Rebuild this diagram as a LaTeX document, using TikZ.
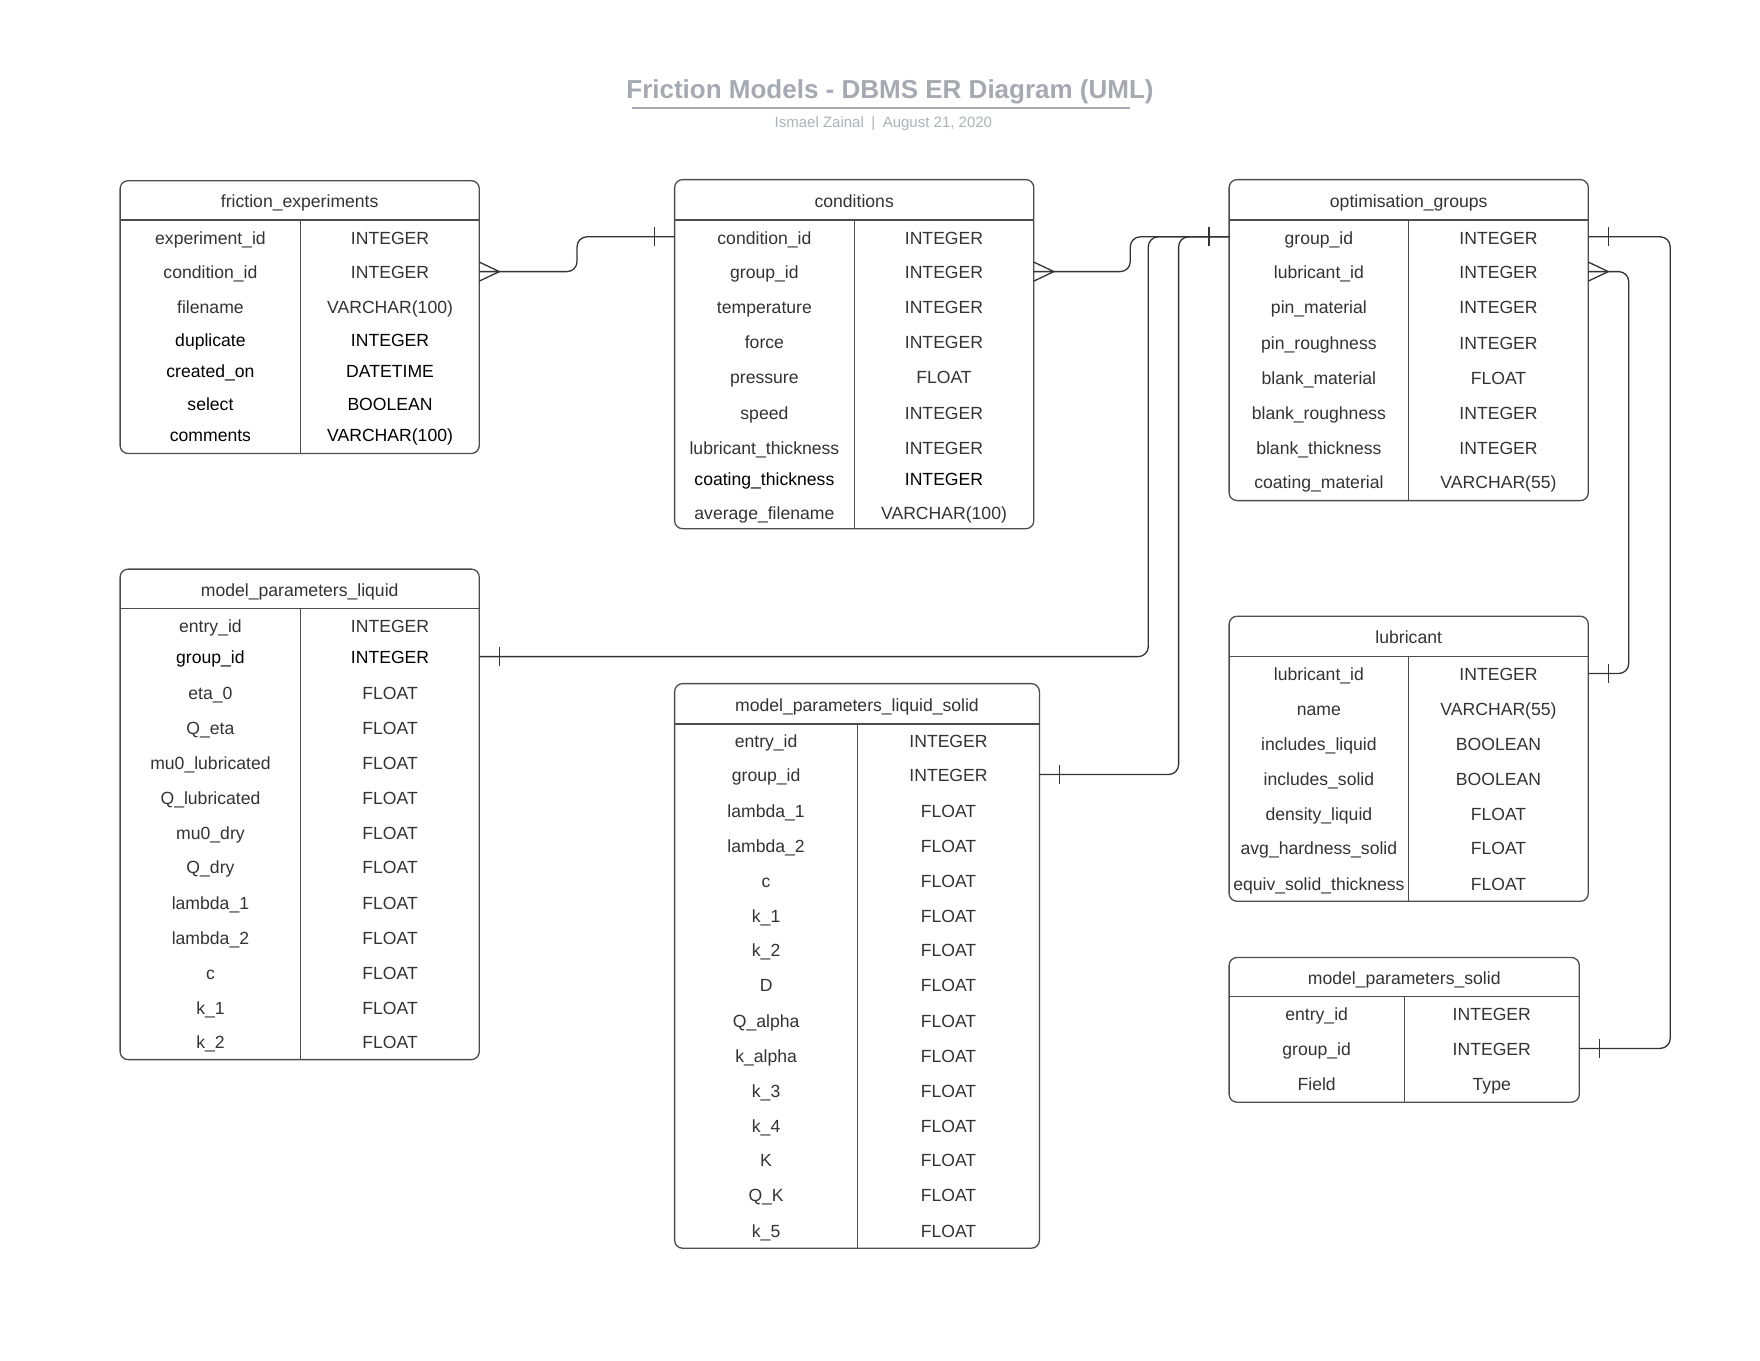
\documentclass[tikz,border=0pt]{standalone}
\usepackage{fontspec}
\setmainfont{Liberation Sans}
\usetikzlibrary{calc}

\definecolor{ink}{HTML}{333333}
\definecolor{frame}{HTML}{4D4D4D}
\definecolor{titlegrey}{HTML}{A5AAB2}
\definecolor{subgrey}{HTML}{AEB2B8}

\tikzset{
  tablebox/.style={rectangle, draw=frame, line width=1.3pt, rounded corners=8pt,
    inner sep=0pt, outer sep=0pt, anchor=north west},
  rule/.style={draw=frame, line width=1.3pt},
  cell/.style={font=\fontsize{17.6}{21}\selectfont, text height=12.6pt,
    text depth=0pt, inner sep=0pt, yshift=-1pt},
  conn/.style={draw=ink, line width=1.3pt, rounded corners=10pt},
  tick/.style={draw=ink, line width=1.3pt},
}

% #1 name, #2 left, #3 right, #4 top, #5 header rule, #6 bottom,
% #7 column divider, #8 table title, #9 rows y/field/type/colour
\newcommand\ertable[9]{%
  \node[tablebox, minimum width={(#3)-(#2)}, minimum height={(#6)-(#4)}] (#1) at (#2,#4) {};
  \draw[rule] (#2,#5) -- (#3,#5);
  \draw[rule] (#7,#5) -- (#7,#6);
  \node[cell, text=ink] (#1-title) at ({(#2+#3)/2},{(#4+#5)/2}) {#8};
  \foreach \y/\f/\t/\c [count=\i] in {#9} {
    \node[cell, text=\c] (#1-\i-f) at ({(#2+#7)/2},\y) {\f};
    \node[cell, text=\c] (#1-\i-t) at ({(#7+#3)/2},\y) {\t};
    \coordinate (#1-\i-w) at (#2,\y);
    \coordinate (#1-\i-e) at (#3,\y);
  }%
}
% many-end marker opening towards the table edge (connector leaves to the right)
\newcommand\crowfoot[1]{%
  \draw[tick] ([shift={(0,-9.5)}]#1) -- ([shift={(20,0)}]#1) -- ([shift={(0,9.5)}]#1);}
% one-end bar at a horizontal offset from the table edge
\newcommand\onebar[2]{%
  \draw[tick] ([shift={(#2,-9.5)}]#1) -- ([shift={(#2,9.5)}]#1);}

\begin{document}
\begin{tikzpicture}[x=1pt, y=-1pt]
\fill[white] (0,0) rectangle (1760,1360);
\useasboundingbox (0,0) rectangle (1760,1360);

% heading
\node[font=\bfseries\fontsize{26}{30}\selectfont, text=titlegrey, text height=18.6pt,
  text depth=0pt, inner sep=0pt] (title) at (890,88.7)
  {Friction Models - DBMS ER Diagram (UML)};
\draw[titlegrey, line width=2pt] (631.9,107.8) -- (1130.3,107.8);
\node[font=\fontsize{15}{18}\selectfont, text=subgrey, text height=10.7pt,
  text depth=0pt, inner sep=0pt] (byline) at (883.4,122.3)
  {Ismael Zainal\enspace|\enspace August 21, 2020};

% tables
\ertable{fe}{120.1}{479.3}{180.7}{220.0}{453.5}{300.8}{friction\_experiments}{%
  236.8/experiment\_id/INTEGER/ink,
  271.6/condition\_id/INTEGER/ink,
  306.4/filename/{VARCHAR(100)}/ink,
  339.0/duplicate/INTEGER/black,
  370.4/created\_on/DATETIME/black,
  403.0/select/BOOLEAN/black,
  434.4/comments/{VARCHAR(100)}/black}

\ertable{cond}{674.6}{1033.8}{179.6}{220.0}{528.7}{854.2}{conditions}{%
  236.8/condition\_id/INTEGER/ink,
  271.6/group\_id/INTEGER/ink,
  306.4/temperature/INTEGER/ink,
  341.2/force/INTEGER/ink,
  376.0/pressure/FLOAT/ink,
  411.9/speed/INTEGER/ink,
  446.7/lubricant\_thickness/INTEGER/ink,
  478.2/coating\_thickness/INTEGER/black,
  511.8/average\_filename/{VARCHAR(100)}/ink}

\ertable{og}{1229.1}{1588.3}{179.6}{220.0}{500.6}{1408.7}{optimisation\_groups}{%
  236.8/group\_id/INTEGER/ink,
  271.6/lubricant\_id/INTEGER/ink,
  306.4/pin\_material/INTEGER/ink,
  342.3/pin\_roughness/INTEGER/ink,
  377.1/blank\_material/FLOAT/ink,
  411.9/blank\_roughness/INTEGER/ink,
  446.7/blank\_thickness/INTEGER/ink,
  481.5/coating\_material/{VARCHAR(55)}/ink}

\ertable{mpl}{120.1}{479.3}{569.1}{608.4}{1059.6}{300.8}{model\_parameters\_liquid}{%
  625.2/entry\_id/INTEGER/ink,
  656.6/group\_id/INTEGER/black,
  692.5/eta\_0/FLOAT/ink,
  727.4/Q\_eta/FLOAT/ink,
  762.1/mu0\_lubricated/FLOAT/ink,
  796.9/Q\_lubricated/FLOAT/ink,
  831.7/mu0\_dry/FLOAT/ink,
  866.5/Q\_dry/FLOAT/ink,
  902.4/lambda\_1/FLOAT/ink,
  937.2/lambda\_2/FLOAT/ink,
  972.0/c/FLOAT/ink,
  1006.8/k\_1/FLOAT/ink,
  1041.6/k\_2/FLOAT/ink}

\ertable{mpls}{674.6}{1039.4}{683.6}{724.0}{1248.2}{857.6}{model\_parameters\_liquid\_solid}{%
  739.7/entry\_id/INTEGER/ink,
  774.5/group\_id/INTEGER/ink,
  810.4/lambda\_1/FLOAT/ink,
  845.2/lambda\_2/FLOAT/ink,
  880.0/c/FLOAT/ink,
  914.8/k\_1/FLOAT/ink,
  949.6/k\_2/FLOAT/ink,
  984.4/D/FLOAT/ink,
  1020.3/Q\_alpha/FLOAT/ink,
  1055.1/k\_alpha/FLOAT/ink,
  1089.9/k\_3/FLOAT/ink,
  1124.7/k\_4/FLOAT/ink,
  1159.5/K/FLOAT/ink,
  1194.3/Q\_K/FLOAT/ink,
  1230.2/k\_5/FLOAT/ink}

\ertable{lub}{1229.1}{1588.3}{616.2}{656.6}{901.3}{1408.7}{lubricant}{%
  673.5/lubricant\_id/INTEGER/ink,
  708.3/name/{VARCHAR(55)}/ink,
  743.1/includes\_liquid/BOOLEAN/ink,
  777.9/includes\_solid/BOOLEAN/ink,
  812.7/density\_liquid/FLOAT/ink,
  847.4/avg\_hardness\_solid/FLOAT/ink,
  883.4/equiv\_solid\_thickness/FLOAT/ink}

\ertable{mps}{1229.1}{1579.3}{957.4}{996.7}{1102.2}{1404.2}{model\_parameters\_solid}{%
  1013.6/entry\_id/INTEGER/ink,
  1048.4/group\_id/INTEGER/ink,
  1083.2/Field/Type/ink}

% relationships
\draw[conn] (fe-2-e) -- ++(97.7,0) |- (cond-1-w);
\crowfoot{fe-2-e}
\onebar{cond-1-w}{-20}

\draw[conn] (cond-2-e) -- ++(96.5,0) |- (og-1-w);
\crowfoot{cond-2-e}
\onebar{og-1-w}{-20}

\draw[conn] (mpl-2-e) -- ++(669,0) |- (og-1-w);
\onebar{mpl-2-e}{20}

\draw[conn] (mpls-2-e) -- ++(139.2,0) |- (og-1-w);
\onebar{mpls-2-e}{20}

\draw[conn] (og-1-e) -- ++(81.9,0) |- (mps-2-e);
\onebar{og-1-e}{20}
\onebar{mps-2-e}{20}

\draw[conn] (og-2-e) -- ++(40.4,0) |- (lub-1-e);
\crowfoot{og-2-e}
\onebar{lub-1-e}{20}
\end{tikzpicture}
\end{document}
